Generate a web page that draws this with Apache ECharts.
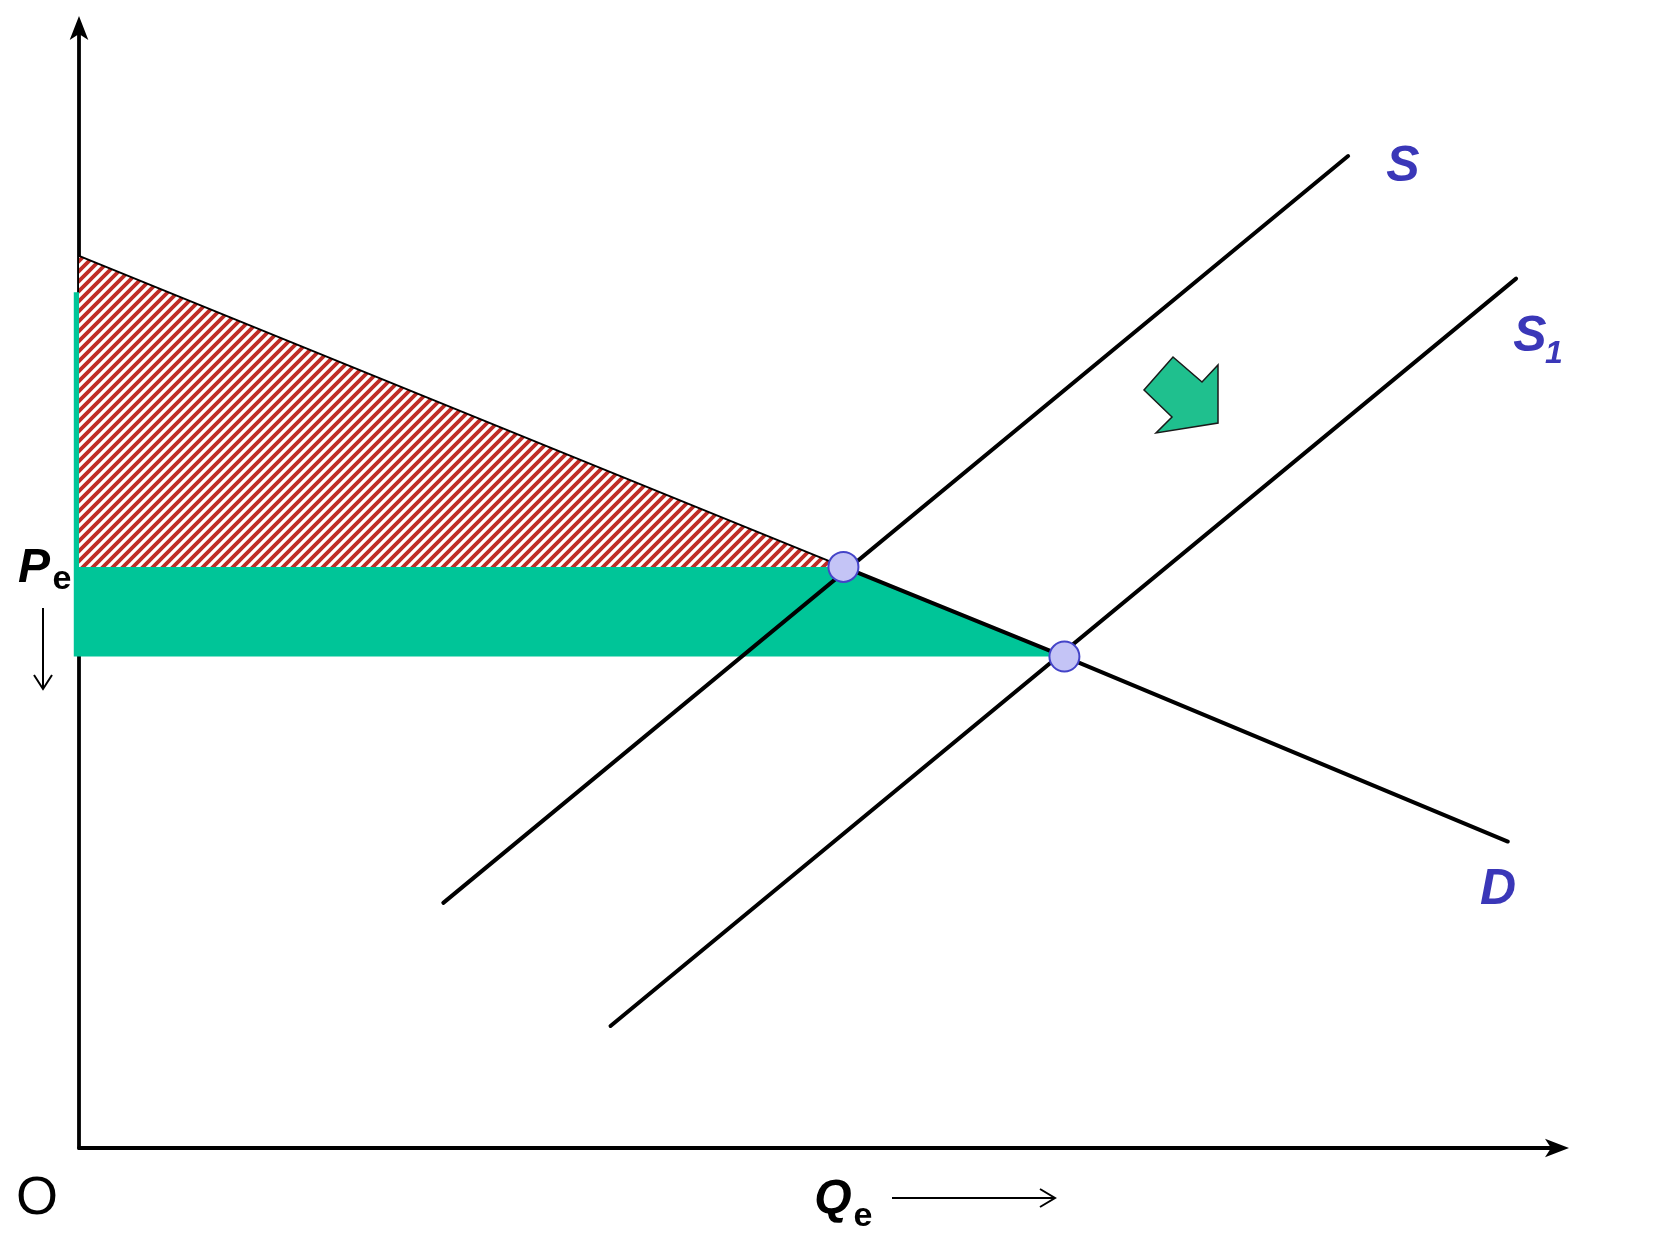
<!DOCTYPE html>
<html>
<head>
<meta charset="utf-8">
<script src="https://cdn.jsdelivr.net/npm/echarts@6/dist/echarts.min.js"></script>
<style>
  html, body { margin: 0; padding: 0; background: #ffffff; }
  #chart { width: 1679px; height: 1241px; }
</style>
</head>
<body>
<div id="chart"></div>
<script>
// ---- data (diagram units: quantity on x, price on y) ----
const demandCurve   = [[0, 78.6], [51.2, 51.2], [66.0, 43.3], [95.7, 27.0]];
const supplyS       = [[24.4, 21.6], [85.0, 87.4]];
const supplyS1      = [[35.6, 10.75], [96.25, 76.6]];
const equilibria    = [[51.2, 51.2], [66.0, 43.3]];
const priceOld      = 51.2;   // Pe
const priceNew      = 43.3;   // new price
const demandIntercept = 78.6;
const greenStripTop = 75.4;
const axisMax       = { q: 99.26, p: 99.03 };

// consumer-surplus regions built from the values above
const hatchPolygon = [[0, demandIntercept], equilibria[0], [0, priceOld]];
const greenPolygon = [[-0.35, greenStripTop], [0, greenStripTop], [0, priceOld],
                      equilibria[0], equilibria[1], [-0.35, priceNew]];

// ---- hatch pattern ----
function makeHatch() {
  const s = 10;
  const c = document.createElement('canvas');
  c.width = s; c.height = s;
  const g = c.getContext('2d');
  g.fillStyle = '#ffffff';
  g.fillRect(0, 0, s, s);
  g.strokeStyle = '#bf2c26';
  g.lineWidth = 3.8;
  g.beginPath();
  g.moveTo(-2, s + 2); g.lineTo(s + 2, -2);
  g.moveTo(-2, 2); g.lineTo(2, -2);
  g.moveTo(s - 2, s + 2); g.lineTo(s + 2, s - 2);
  g.stroke();
  return c;
}
const hatch = { image: makeHatch(), repeat: 'repeat' };

function polygonSeries(points, fill, z) {
  return {
    type: 'custom',
    coordinateSystem: 'cartesian2d',
    clip: false,
    silent: true,
    z: z,
    data: [[0, 0]],
    renderItem: function (params, api) {
      return {
        type: 'polygon',
        shape: { points: points.map(p => api.coord(p)) },
        style: { fill: fill, stroke: null }
      };
    }
  };
}

function lineSeries(data, width, z) {
  return {
    type: 'line',
    data: data,
    showSymbol: false,
    symbol: 'none',
    silent: true,
    z: z,
    lineStyle: { color: '#000000', width: width, cap: 'round' }
  };
}

const blue = '#3a37b8';
const labelFont = 'bold italic 50px "Liberation Sans", Arial, sans-serif';

const chart = echarts.init(document.getElementById('chart'), null, { renderer: 'canvas' });
chart.setOption({
  backgroundColor: '#ffffff',
  animation: false,
  grid: { left: 79, top: 24, width: 1482, height: 1124 },
  xAxis: {
    type: 'value', min: 0, max: axisMax.q,
    axisLine: { show: true, onZero: false, symbol: ['none', 'arrow'], symbolSize: [14, 24], symbolOffset: [0, 8],
                lineStyle: { color: '#000', width: 3.8 } },
    axisTick: { show: false }, axisLabel: { show: false }, splitLine: { show: false }
  },
  yAxis: {
    type: 'value', min: 0, max: axisMax.p,
    axisLine: { show: true, onZero: false, symbol: ['none', 'arrow'], symbolSize: [14, 24], symbolOffset: [0, 8],
                lineStyle: { color: '#000', width: 3.8 } },
    axisTick: { show: false }, axisLabel: { show: false }, splitLine: { show: false }
  },
  series: [
    polygonSeries(hatchPolygon, hatch, 1),
    polygonSeries(greenPolygon, '#00c598', 2),
    lineSeries(demandCurve.slice(0, 2), 1.8, 3),
    lineSeries(demandCurve.slice(1), 4, 3),
    lineSeries(supplyS, 4, 3),
    lineSeries(supplyS1, 4, 3),
    {
      type: 'scatter',
      data: equilibria,
      symbol: 'circle',
      symbolSize: 30,
      silent: true,
      z: 5,
      itemStyle: { color: '#c4c4f6', borderColor: '#4444c8', borderWidth: 2, opacity: 1 }
    }
  ],
  graphic: [
    // shift arrow
    { type: 'polygon', z: 10,
      shape: { points: [[1173, 357], [1202, 382], [1218, 365], [1218, 423], [1156, 433], [1172, 417], [1144, 390]] },
      style: { fill: '#1fc08e', stroke: '#1a1a1a', lineWidth: 1.5 } },
    // curve labels
    { type: 'text', z: 10, style: { x: 1403, y: 167, text: 'S', font: labelFont, fill: blue, align: 'center', verticalAlign: 'middle' } },
    { type: 'text', z: 10, style: { x: 1530, y: 337, text: 'S', font: labelFont, fill: blue, align: 'center', verticalAlign: 'middle' } },
    { type: 'text', z: 10, style: { x: 1554, y: 354, text: '1', font: 'bold italic 32px "Liberation Sans", Arial, sans-serif', fill: blue, align: 'center', verticalAlign: 'middle' } },
    { type: 'text', z: 10, style: { x: 1498, y: 890, text: 'D', font: labelFont, fill: blue, align: 'center', verticalAlign: 'middle' } },
    // price label
    { type: 'text', z: 10, style: { x: 34, y: 569, text: 'P', font: 'bold italic 48px "Liberation Sans", Arial, sans-serif', fill: '#000', align: 'center', verticalAlign: 'middle' } },
    { type: 'text', z: 10, style: { x: 62, y: 580, text: 'e', font: 'bold 34px "Liberation Sans", Arial, sans-serif', fill: '#000', align: 'center', verticalAlign: 'middle' } },
    { type: 'polyline', z: 10, shape: { points: [[43, 608], [43, 689]] }, style: { stroke: '#000', lineWidth: 2, fill: null } },
    { type: 'polyline', z: 10, shape: { points: [[34, 675], [43, 689], [52, 675]] }, style: { stroke: '#000', lineWidth: 2, fill: null } },
    // origin
    { type: 'text', z: 10, style: { x: 37, y: 1199, text: 'O', font: '54px "Liberation Sans", Arial, sans-serif', fill: '#000', align: 'center', verticalAlign: 'middle' } },
    // quantity label
    { type: 'text', z: 10, style: { x: 833, y: 1200, text: 'Q', font: 'bold italic 48px "Liberation Sans", Arial, sans-serif', fill: '#000', align: 'center', verticalAlign: 'middle' } },
    { type: 'text', z: 10, style: { x: 863, y: 1217, text: 'e', font: 'bold 34px "Liberation Sans", Arial, sans-serif', fill: '#000', align: 'center', verticalAlign: 'middle' } },
    { type: 'polyline', z: 10, shape: { points: [[892, 1198], [1055, 1198]] }, style: { stroke: '#000', lineWidth: 2, fill: null } },
    { type: 'polyline', z: 10, shape: { points: [[1040, 1189], [1055, 1198], [1040, 1207]] }, style: { stroke: '#000', lineWidth: 2, fill: null } }
  ]
});
</script>
</body>
</html>
